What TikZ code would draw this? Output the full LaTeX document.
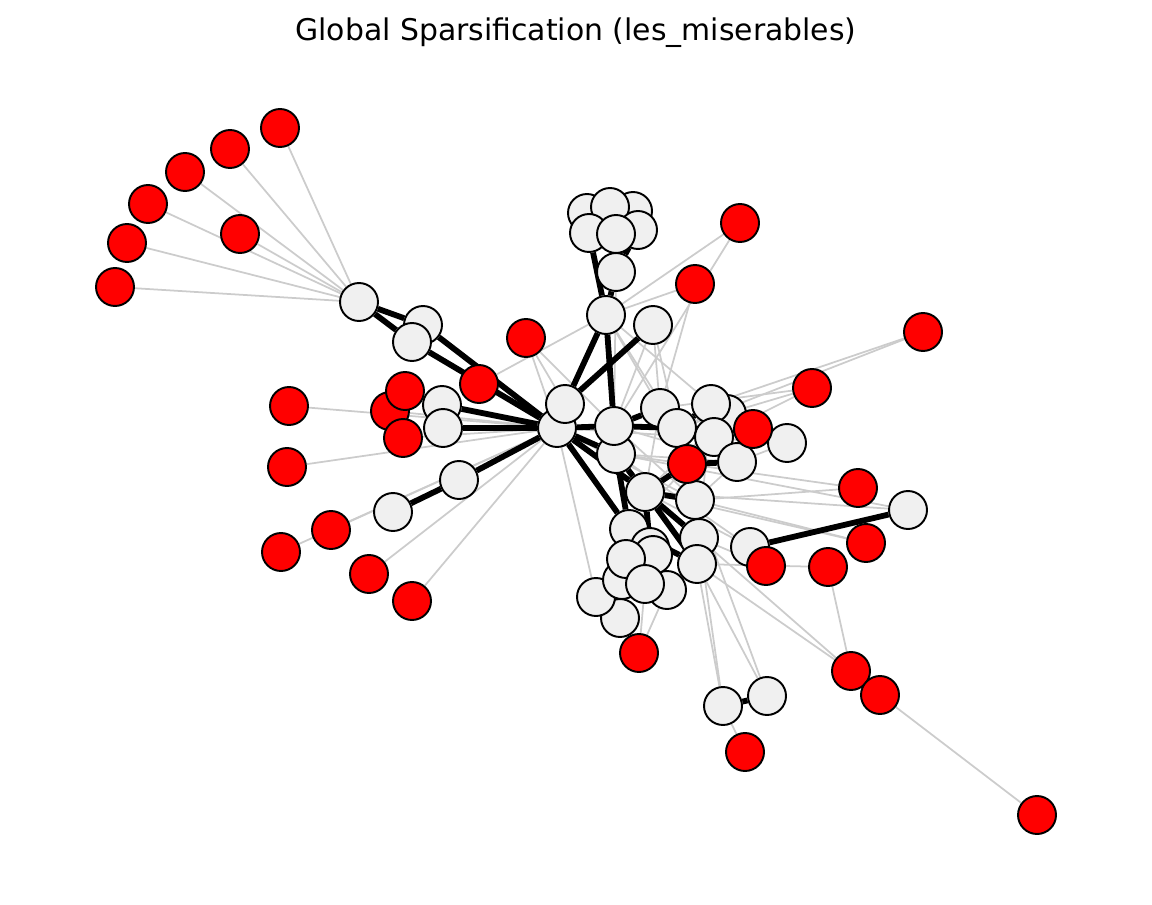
\documentclass[tikz,border=0pt]{standalone}
\usepackage{fontspec}
\setmainfont{DejaVu Sans}
\usetikzlibrary{positioning}
\pgfdeclarelayer{edges}
\pgfsetlayers{edges,main}

\begin{document}
\begin{tikzpicture}[x=0.02cm,y=-0.02cm,
    vert/.style={circle,draw=black,line width=1.1pt,minimum size=0.76cm,inner sep=0pt},
    keptv/.style={vert,fill=red},
    plainv/.style={vert,fill=black!6},
    strong/.style={black,line width=3.3pt},
    weak/.style={black!20,line width=1pt}]
            % Page frame
            \useasboundingbox (0,0) rectangle (1152,905);
            \node (title) at (576,33) {\fontsize{17}{20}\selectfont Global Sparsification (les\_miserables)};
            % Grey vertices
            \foreach \n/\x/\y in {w1/359/302, w2/423/325, w3/412/342, w4/442/405, w5/443/428,
                    w6/459/480, w7/393/512, w10/606/315, w11/653/325, w12/616/272,
                    t1/587/213, t3/633/211, t2/610/207, t4/589/233, t6/638/230, t5/616/234,
                    w9/557/428, w8/565/404, w14/616/454, w13/614/426, w15/660/408, w19/727/414,
                    w17/711/404, w16/677/428, w18/714/437, w20/787/443, w21/737/462,
                    w22/645/492, w23/695/500, w24/629/529, w25/699/538, w26/750/547,
                    w27/908/510, w28/697/564, w36/620/618, w35/596/597, w34/667/590,
                    w29/650/547, w30/653/555, w32/622/580, w31/626/559, w33/645/584,
                    w37/723/706, w38/767/696}
                \node[plainv] (\n) at (\x,\y) {};
            % Red vertices
            \foreach \n/\x/\y in {r1/280/128, r2/230/149, r3/185/172, r4/148/204, r5/127/243,
                    r6/115/287, r7/240/234, r8/740/223, r9/695/284, r10/526/338,
                    r11/923/332, r12/812/388, r13/479/384, r15/390/411, r14/405/391,
                    r16/403/438, r17/289/406, r18/287/467, r19/753/429, r20/687/464,
                    r21/858/488, r22/331/530, r23/281/552, r24/369/574, r25/412/601,
                    r26/866/543, r27/766/566, r28/828/567, r29/639/653, r30/851/671,
                    r31/880/695, r32/745/752, r33/1037/815}
                \node[keptv] (\n) at (\x,\y) {};
            \begin{pgfonlayer}{edges}
                % Thin edges
                \foreach \a/\b in {r1/w1, r2/w1, r3/w1, r4/w1, r5/w1, r6/w1, r7/w1,
                        r8/w10, r8/w13, r9/w10, r9/w15, r10/w8, r10/w9, r10/w13,
                        r11/w17, r11/w16, r12/w16, r12/w18, r12/w15, r13/w10, r13/w9,
                        r14/w4, r15/w9, r16/w9, r17/w9, r18/w9, r22/w9, r23/w9,
                        r24/w9, r25/w9, w7/w9, r19/w18, r19/w20, r21/w23, r21/w14,
                        r26/w22, r26/w23, r27/w26, r27/w25, r28/w28, r28/r30,
                        r29/w36, r29/w33, r29/w34, r30/w28, r30/w25, r31/r33,
                        r32/w37, w37/w28, w37/w25, w38/w28, w38/w23, w20/w17,
                        w20/w21, w20/w16, w21/w23, w21/w15, w27/w22, w27/w14,
                        w11/w13, w11/w15, w11/w16, w12/w13, w10/w15, w10/w16,
                        w10/w17, w9/w20, w9/w23, w14/w21, w14/w26, w13/w21,
                        w13/w23, w22/w26, w24/w36, w35/w24, w35/w9, w15/w22,
                        w16/w28, w17/w25, w18/w24, w19/w22, w14/w28}
                    \draw[weak] (\a) -- (\b);
                % Kept edges
                \foreach \a/\b in {w1/w2, w1/w3, w2/w9, w3/w9, w4/w9, w5/w9, w6/w9,
                        w6/w7, w8/w9, w8/w10, w8/w11, w10/w13, t4/w10, w12/w10,
                        t6/w12, t5/w12, w9/w13, w13/w15, w13/w16, w16/w17, w16/w18,
                        w9/w14, w9/w22, w9/w24, w14/w22, w14/w24, w22/r20, r20/w21,
                        w22/w23, w22/w25, w22/w28, w22/w29, w24/w28, w26/w27, w37/w38}
                    \draw[strong] (\a) -- (\b);
            \end{pgfonlayer}
        \end{tikzpicture}
\end{document}
